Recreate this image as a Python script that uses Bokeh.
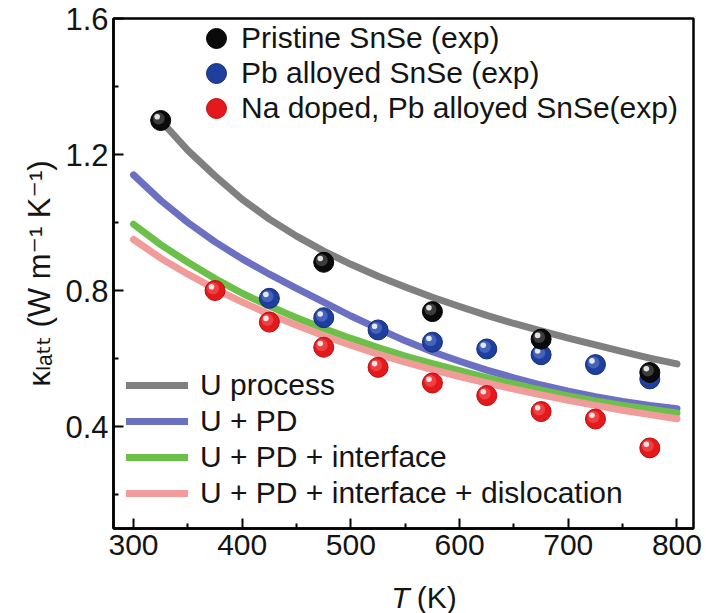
from bokeh.plotting import figure
from bokeh.models import FixedTicker, Legend, LegendItem, Range1d
from bokeh.layouts import column
from bokeh.core.properties import value
from bokeh.embed import file_html
from bokeh.resources import INLINE

# ---------------- data ----------------
# model curves
T_u = [325, 350, 375, 400, 425, 450, 475, 500, 525, 550, 575, 600, 625, 650, 675, 700, 725, 750, 775, 800]
k_u_process = [1.30, 1.212, 1.137, 1.068, 1.010, 0.960, 0.916, 0.877, 0.842, 0.810, 0.780, 0.753, 0.727, 0.703,
               0.681, 0.660, 0.640, 0.620, 0.601, 0.584]

T_m = [300, 325, 350, 375, 400, 425, 450, 475, 500, 525, 550, 575, 600, 625, 650, 675, 700, 725, 750, 775, 800]
k_u_pd = [1.14, 1.065, 1.00, 0.943, 0.893, 0.848, 0.806, 0.766, 0.725, 0.688, 0.652, 0.620, 0.592, 0.566, 0.543,
          0.522, 0.504, 0.488, 0.474, 0.462, 0.452]
k_u_pd_int = [0.995, 0.935, 0.883, 0.835, 0.792, 0.754, 0.720, 0.688, 0.659, 0.632, 0.607, 0.585, 0.564, 0.544,
              0.525, 0.507, 0.490, 0.475, 0.462, 0.451, 0.440]
k_u_pd_int_dis = [0.95, 0.895, 0.848, 0.805, 0.766, 0.730, 0.698, 0.667, 0.639, 0.613, 0.589, 0.567, 0.547, 0.528,
                  0.510, 0.493, 0.477, 0.462, 0.448, 0.435, 0.423]

# experimental points
T_pristine = [325, 475, 575, 675, 775]
k_pristine = [1.30, 0.883, 0.738, 0.657, 0.559]
T_pb = [425, 475, 525, 575, 625, 675, 725, 775]
k_pb = [0.777, 0.720, 0.684, 0.648, 0.628, 0.611, 0.582, 0.540]
T_na = [375, 425, 475, 525, 575, 625, 675, 725, 775]
k_na = [0.800, 0.707, 0.633, 0.574, 0.528, 0.491, 0.444, 0.422, 0.337]

x_ticks = [300, 400, 500, 600, 700, 800]
x_minor = [350, 450, 550, 650, 750]
y_ticks = [0.4, 0.8, 1.2, 1.6]
y_minor = [0.2, 0.6, 1.0, 1.4]

curve_labels = ["U process", "U + PD", "U + PD + interface", "U + PD + interface + dislocation"]
point_labels = ["Pristine SnSe (exp)", "Pb alloyed SnSe (exp)", "Na doped, Pb alloyed SnSe(exp)"]
y_title = "κₗₐₜₜ (W m⁻¹ K⁻¹)"

# ---------------- main figure ----------------
FONT = "Liberation Sans"
TXT = "#141414"

p = figure(width=706, height=568, output_backend="svg", toolbar_location=None,
           x_range=Range1d(281.6, 815.2), y_range=Range1d(0.1, 1.6),
           min_border_left=113, min_border_right=13, min_border_top=18, min_border_bottom=40)
p.grid.visible = False
p.background_fill_color = "white"
p.border_fill_color = "white"
p.outline_line_color = "black"
p.outline_line_width = 2.5
p.outline_line_alpha = 1.0

for ax in (p.xaxis[0], p.yaxis[0]):
    ax.axis_line_width = 2.5
    ax.axis_line_color = "black"
    ax.major_tick_in = 10
    ax.major_tick_out = 0
    ax.minor_tick_in = 5
    ax.minor_tick_out = 0
    ax.major_tick_line_width = 2
    ax.minor_tick_line_width = 2
    ax.major_tick_line_color = "black"
    ax.minor_tick_line_color = "black"
    ax.major_label_text_font = FONT
    ax.major_label_text_color = TXT

p.xaxis.major_label_text_font_size = "30px"
p.yaxis.major_label_text_font_size = "31px"
p.xaxis.ticker = FixedTicker(ticks=x_ticks, minor_ticks=x_minor)
p.yaxis.ticker = FixedTicker(ticks=y_ticks, minor_ticks=y_minor)
p.xaxis.major_label_standoff = 6
p.yaxis.major_label_standoff = 5

p.yaxis.axis_label = y_title
p.yaxis.axis_label_text_font = "Liberation Sans, DejaVu Sans"
p.yaxis.axis_label_text_font_size = "31px"
p.yaxis.axis_label_text_font_style = "normal"
p.yaxis.axis_label_text_color = TXT
p.yaxis.axis_label_standoff = 5

# model curves
line_cols = ["#808080", "#6b70c2", "#6cc04a", "#f29b9b"]
kw = dict(line_width=7, line_cap="round", line_join="round")
r_u = p.line(T_u, k_u_process, line_color=line_cols[0], **kw)
r_pd = p.line(T_m, k_u_pd, line_color=line_cols[1], **kw)
r_int = p.line(T_m, k_u_pd_int, line_color=line_cols[2], **kw)
r_dis = p.line(T_m, k_u_pd_int_dis, line_color=line_cols[3], **kw)


def spheres(T, k, base, rim, mid, size=20):
    r = p.scatter(T, k, size=size, marker="circle", fill_color=base, line_color=rim, line_width=1)
    # shading (offsets of a few pixels expressed in data units)
    p.scatter([t - 1.8 for t in T], [v + 0.006 for v in k], size=size * 0.6, marker="circle",
              fill_color=mid, fill_alpha=0.35, line_alpha=0)
    p.scatter([t - 3.2 for t in T], [v + 0.011 for v in k], size=size * 0.28, marker="circle",
              fill_color="white", fill_alpha=0.85, line_alpha=0)
    return r


r_na = spheres(T_na, k_na, "#e3191c", "#b50f12", "#ff8a8a")
r_pb = spheres(T_pb, k_pb, "#1e3f9e", "#142c74", "#8fa6ee")
r_pr = spheres(T_pristine, k_pristine, "#0a0a0a", "#000000", "#9a9a9a")

# point legend: one legend per row so that the rows can sit 35 px apart
leg_common = dict(glyph_width=50, glyph_height=50, label_standoff=-5, padding=0, margin=0,
                  background_fill_alpha=0, border_line_alpha=0,
                  label_text_font=FONT, label_text_font_size="30px", label_text_color=TXT)
for lbl, rend, ypos in zip(point_labels, [r_pr, r_pb, r_na], [465, 430, 395]):
    p.add_layout(Legend(items=[LegendItem(label=lbl, renderers=[rend])], location=(78, ypos), **leg_common))

leg_lines = Legend(items=[LegendItem(label=curve_labels[0], renderers=[r_u]),
                          LegendItem(label=curve_labels[1], renderers=[r_pd]),
                          LegendItem(label=curve_labels[2], renderers=[r_int]),
                          LegendItem(label=curve_labels[3], renderers=[r_dis])],
                   location=(13, 17), glyph_width=62, glyph_height=36, spacing=0,
                   label_standoff=12, padding=0, margin=0,
                   background_fill_alpha=0, border_line_alpha=0,
                   label_text_font=FONT, label_text_font_size="30px", label_text_color=TXT)
p.add_layout(leg_lines)

# ---------------- x axis title strip (bottom): italic T, upright (K) ----------------
bf = figure(width=706, height=45, output_backend="svg", toolbar_location=None,
            x_range=Range1d(0, 706), y_range=Range1d(0, 45),
            x_axis_location=None, y_axis_location=None, min_border=0)
bf.grid.visible = False
bf.outline_line_color = None
bf.text(x=[338], y=[16], text=["T"], text_font=value(FONT), text_font_style="italic",
        text_font_size="30px", text_color=TXT, text_align="left", text_baseline="alphabetic")
bf.text(x=[369], y=[16], text=["(K)"], text_font=value(FONT), text_font_style="normal",
        text_font_size="30px", text_color=TXT, text_align="left", text_baseline="alphabetic")

layout = column(p, bf)
open("out.html", "w").write(file_html(layout, INLINE))
